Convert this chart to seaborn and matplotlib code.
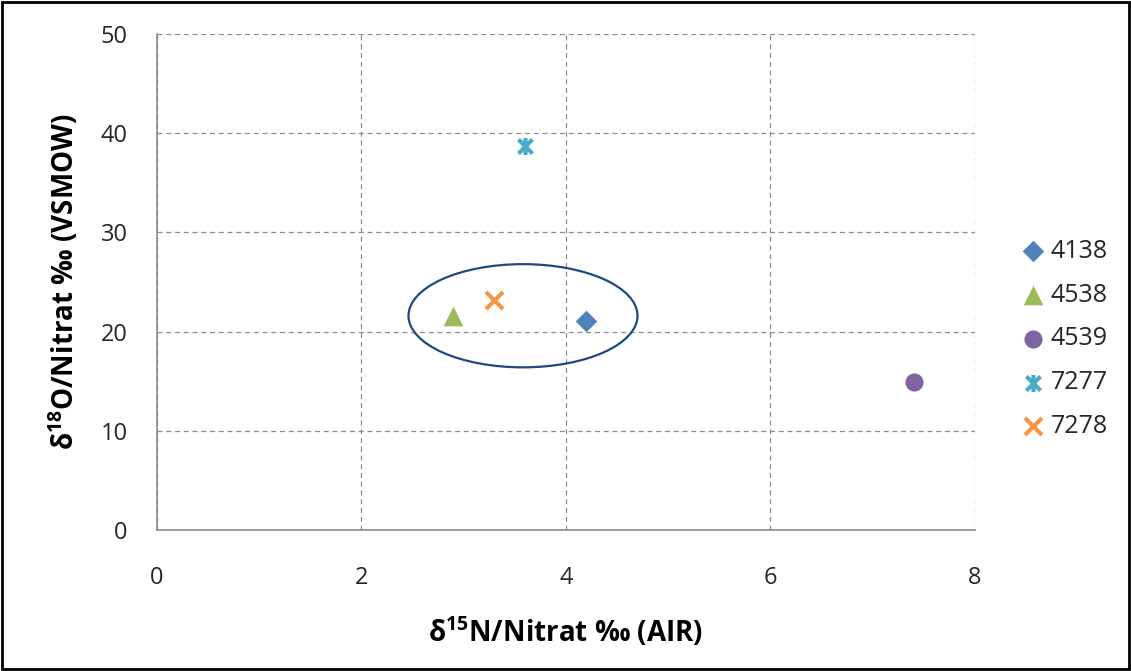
import matplotlib
matplotlib.use("Agg")
import matplotlib.pyplot as plt
from matplotlib.patches import Ellipse, Rectangle
from matplotlib.path import Path
import seaborn as sns
import pandas as pd

# ---- data ----
series = ["4138", "4538", "4539", "7277", "7278"]
x_vals = [4.2, 2.9, 7.4, 3.6, 3.3]
y_vals = [21.1, 21.6, 14.9, 38.7, 23.2]
colors = ["#4F81BD", "#9BBB59", "#8064A2", "#4BACC6", "#F79646"]
x_ticks = [0, 2, 4, 6, 8]
y_ticks = [0, 10, 20, 30, 40, 50]
ellipse_center = (3.58, 21.6)
ellipse_w, ellipse_h = 2.24, 10.4

sns.set_theme(style="white")
plt.rcParams["font.family"] = ["Open Sans", "DejaVu Sans"]
plt.rcParams["mathtext.fontset"] = "custom"
plt.rcParams["mathtext.rm"] = "Open Sans"
plt.rcParams["mathtext.bf"] = "Open Sans:bold"

star = Path([(-1, -1), (1, 1), (-1, 1), (1, -1), (0, -1.2), (0, 1.2)],
            [Path.MOVETO, Path.LINETO, Path.MOVETO, Path.LINETO, Path.MOVETO, Path.LINETO])
markers = ["D", "^", "o", star, "x"]
sizes = [120, 200, 170, 150, 150]
lws = [0, 0, 0, 3, 3]

df = pd.DataFrame({"x": x_vals, "y": y_vals, "series": series})

fig = plt.figure(figsize=(11.31, 6.71), dpi=100)
ax = fig.add_axes([0.1388, 0.2101, 0.862 - 0.1388, 0.9493 - 0.2101])

for s, c, m, sz, lw in zip(series, colors, markers, sizes, lws):
    sub = df[df["series"] == s]
    if lw > 0:
        sns.scatterplot(data=sub, x="x", y="y", marker=m, color=c, s=sz,
                        linewidth=lw, edgecolor=c, ax=ax, label=s, zorder=3)
    else:
        sns.scatterplot(data=sub, x="x", y="y", marker=m, color=c, s=sz,
                        linewidth=0, ax=ax, label=s, zorder=3)

ax.add_patch(Ellipse(ellipse_center, ellipse_w, ellipse_h, fill=False,
                     edgecolor="#1F497D", linewidth=1.6, zorder=2))

ax.set_xlim(0, 8)
ax.set_ylim(0, 50)
ax.set_xticks(x_ticks)
ax.set_yticks(y_ticks)
ax.grid(True, color="#8C8C8C", linestyle=(0, (4, 3)), linewidth=0.9)
ax.set_axisbelow(True)
for side in ["top", "right"]:
    ax.spines[side].set_visible(False)
for side in ["left", "bottom"]:
    ax.spines[side].set_color("#8C8C8C")
    ax.spines[side].set_linewidth(1.2)
ax.tick_params(axis="both", labelsize=17, colors="#8C8C8C", labelcolor="#262626",
               length=4, direction="out")
ax.tick_params(axis="x", pad=22)
ax.tick_params(axis="y", pad=17)

ax.set_xlabel(r"δ$^{\mathbf{15}}$N/Nitrat ‰ (AIR)", fontsize=20, fontweight="bold",
              labelpad=18, color="#000000")
ax.set_ylabel(r"δ$^{\mathbf{18}}$O/Nitrat ‰ (VSMOW)", fontsize=20, fontweight="bold",
              labelpad=14, color="#000000")

leg = ax.legend(loc="center left", bbox_to_anchor=(0.897, 0.495),
                bbox_transform=fig.transFigure, frameon=False, fontsize=18,
                handlelength=0.7, handletextpad=0.35, labelspacing=0.75,
                borderaxespad=0)

fig.add_artist(Rectangle((0.002, 0.003), 0.996, 0.994, transform=fig.transFigure,
                         fill=False, edgecolor="black", linewidth=2))

fig.savefig("out.png", dpi=100)
